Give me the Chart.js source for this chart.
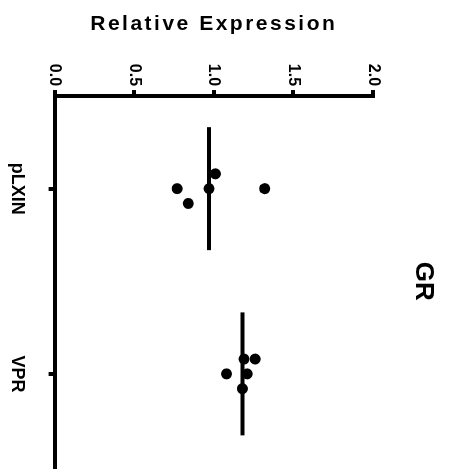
<!DOCTYPE html>
<html>
<head>
<meta charset="utf-8">
<script src="https://cdn.jsdelivr.net/npm/chart.js@4/dist/chart.umd.min.js"></script>
<style>
  html, body { margin: 0; padding: 0; background: #fff; overflow: hidden; }
  #wrap {
    position: absolute; left: 0; top: 0;
    width: 472px; height: 453px;
    transform-origin: 0 0;
    transform: translateX(453px) rotate(90deg);
  }
</style>
</head>
<body>
<div id="wrap"><canvas id="c" width="472" height="453"></canvas></div>
<script>
// ---- data ----
const categories = ['pLXIN', 'VPR'];
const pLXINValues = [0.77, 0.84, 0.97, 1.01, 1.32];
const pLXINJitter = [0, 0.08, 0, -0.08, 0];
const VPRValues = [1.08, 1.19, 1.26, 1.21, 1.18];
const VPRJitter = [0, -0.08, -0.08, 0, 0.08];
const means = [0.97, 1.18];
const valueTicks = [0, 0.5, 1.0, 1.5, 2.0];
const valueTickLabels = ['0.0', '0.5', '1.0', '1.5', '2.0'];
const chartTitle = 'GR';
const valueAxisTitle = 'Relative Expression';

const FONT = "'Liberation Sans', Arial, Helvetica, sans-serif";
const MEAN_HALF = 0.332;

class SpacedLinearScale extends Chart.LinearScale {
  drawTitle() {
    const ctx = this.ctx;
    ctx.save();
    try { ctx.letterSpacing = '2.5px'; } catch (e) {}
    super.drawTitle();
    ctx.restore();
  }
}
SpacedLinearScale.id = 'spacedLinear';
SpacedLinearScale.defaults = Chart.LinearScale.defaults;
Chart.register(SpacedLinearScale);

function pts(values, jitter, catIndex) {
  return values.map((v, i) => ({ x: catIndex + jitter[i], y: v }));
}
function meanLine(catIndex) {
  return [{ x: catIndex - MEAN_HALF, y: means[catIndex] }, { x: catIndex + MEAN_HALF, y: means[catIndex] }];
}

new Chart(document.getElementById('c'), {
  type: 'scatter',
  data: {
    datasets: [
      { label: categories[0], data: pts(pLXINValues, pLXINJitter, 0), backgroundColor: '#000', borderColor: '#000', pointRadius: 5.5, borderWidth: 0 },
      { label: categories[1], data: pts(VPRValues, VPRJitter, 1), backgroundColor: '#000', borderColor: '#000', pointRadius: 5.5, borderWidth: 0 },
      { label: 'mean ' + categories[0], data: meanLine(0), showLine: true, borderColor: '#000', borderWidth: 4, pointRadius: 0 },
      { label: 'mean ' + categories[1], data: meanLine(1), showLine: true, borderColor: '#000', borderWidth: 4, pointRadius: 0 }
    ]
  },
  options: {
    responsive: false,
    devicePixelRatio: 1,
    animation: false,
    layout: { padding: { left: 0, right: 5, top: 0, bottom: -15 } },
    plugins: {
      legend: { display: false },
      tooltip: { enabled: false },
      title: {
        display: true,
        text: chartTitle,
        fullSize: false,
        color: '#000',
        font: { family: FONT, size: 26, weight: 'bold', lineHeight: 1.2 },
        padding: { top: 14, bottom: 34.8 }
      }
    },
    scales: {
      x: {
        type: 'linear',
        position: 'bottom',
        min: -0.5,
        max: 1.5,
        afterBuildTicks: (scale) => { scale.ticks = categories.map((c, i) => ({ value: i })); },
        grid: { display: true, drawOnChartArea: false, drawTicks: true, tickLength: 6, tickWidth: 4, lineWidth: 4, tickColor: '#000', color: '#000' },
        border: { display: true, color: '#000', width: 4 },
        ticks: {
          color: '#000',
          padding: 21,
          maxRotation: 0,
          font: { family: FONT, size: 18, weight: 'bold' },
          callback: (v) => categories[v]
        }
      },
      y: {
        type: 'spacedLinear',
        position: 'left',
        min: 0,
        max: 2,
        afterBuildTicks: (scale) => { scale.ticks = valueTicks.map(v => ({ value: v })); },
        grid: { display: true, drawOnChartArea: false, drawTicks: true, tickLength: 6, tickWidth: 4, lineWidth: 4, tickColor: '#000', color: '#000' },
        border: { display: true, color: '#000', width: 4 },
        ticks: {
          color: '#000',
          padding: 4,
          font: { family: FONT, size: 16, weight: 'bold' },
          callback: (v, i) => valueTickLabels[i]
        },
        title: {
          display: true,
          text: valueAxisTitle,
          color: '#000',
          font: { family: FONT, size: 21, weight: 'bold', lineHeight: 1.2 },
          padding: { top: 12, bottom: 22.6 }
        }
      }
    }
  }
});
</script>
</body>
</html>
